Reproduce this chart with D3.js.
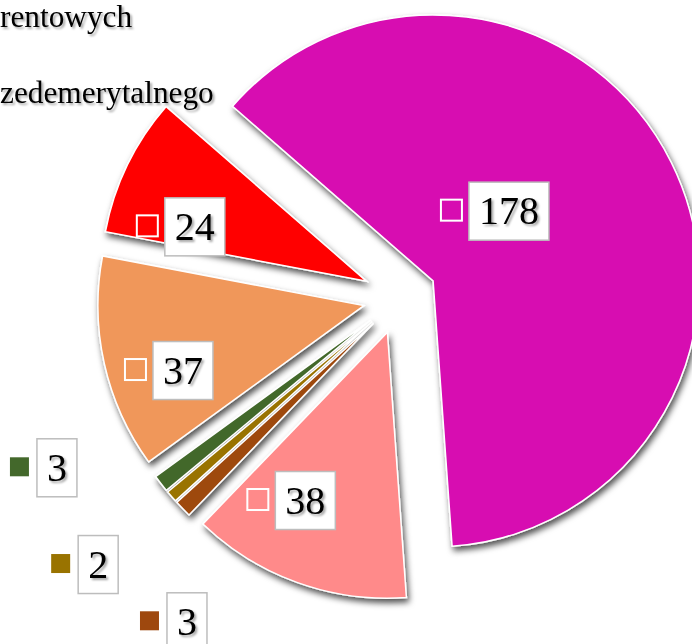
<!DOCTYPE html>
<html>
<head>
<meta charset="utf-8">
<script src="https://cdn.jsdelivr.net/npm/d3@7"></script>
<style>
  html, body { margin: 0; padding: 0; background: #fff; }
  svg { display: block; }
</style>
</head>
<body>
<div id="chart"></div>
<script>
// slice values, clockwise starting from the big magenta slice
const values = [178, 38, 3, 2, 3, 37, 24];
const colors = ['#D70CB1', '#FF8A8A', '#9E480E', '#997300', '#43682B', '#F0975A', '#FF0000'];
// legend entries visible (cut off at the left edge)
const legendTexts = ['rentowych', 'zedemerytalnego'];

// label placement: polar [angle in degrees, distance] from the pie centre
const labelPolar = [[51.6, 139], [205, 224], [213.3, 388], [228.5, 403], [243.6, 383], [251.4, 229], [289, 217]];

const width = 692;
const height = 644;
const center = { x: 400, y: 297.5 };
const radius = 266;
const explode = 37;
const startDeg = -48.94;

const svg = d3.select('#chart')
  .append('svg')
  .attr('width', width)
  .attr('height', height);

svg.append('rect')
  .attr('width', width)
  .attr('height', height)
  .attr('fill', '#fff');

const defs = svg.append('defs');

const shadow = defs.append('filter')
  .attr('id', 'shadow')
  .attr('x', '-20%').attr('y', '-20%')
  .attr('width', '140%').attr('height', '140%');
shadow.append('feGaussianBlur').attr('in', 'SourceAlpha').attr('stdDeviation', 3.2).attr('result', 'blur');
shadow.append('feOffset').attr('in', 'blur').attr('dx', 2).attr('dy', 4).attr('result', 'off');
shadow.append('feFlood').attr('flood-color', '#000').attr('flood-opacity', 0.68).attr('result', 'col');
shadow.append('feComposite').attr('in', 'col').attr('in2', 'off').attr('operator', 'in').attr('result', 'sh');
const m1 = shadow.append('feMerge');
m1.append('feMergeNode').attr('in', 'sh');
m1.append('feMergeNode').attr('in', 'SourceGraphic');

const textShadow = defs.append('filter')
  .attr('id', 'tshadow')
  .attr('x', '-10%').attr('y', '-10%')
  .attr('width', '130%').attr('height', '130%');
textShadow.append('feGaussianBlur').attr('in', 'SourceAlpha').attr('stdDeviation', 0.8).attr('result', 'blur');
textShadow.append('feOffset').attr('in', 'blur').attr('dx', 1.5).attr('dy', 1.5).attr('result', 'off');
textShadow.append('feFlood').attr('flood-color', '#000').attr('flood-opacity', 0.35).attr('result', 'col');
textShadow.append('feComposite').attr('in', 'col').attr('in2', 'off').attr('operator', 'in').attr('result', 'sh');
const m2 = textShadow.append('feMerge');
m2.append('feMergeNode').attr('in', 'sh');
m2.append('feMergeNode').attr('in', 'SourceGraphic');

const start = startDeg * Math.PI / 180;
const pie = d3.pie()
  .sort(null)
  .value(d => d)
  .startAngle(start)
  .endAngle(start + 2 * Math.PI);

const arcs = pie(values);

const arc = d3.arc()
  .innerRadius(0)
  .outerRadius(radius);

const pieG = svg.append('g')
  .attr('transform', `translate(${center.x}, ${center.y})`)
  .attr('filter', 'url(#shadow)');

pieG.selectAll('path')
  .data(arcs)
  .enter()
  .append('path')
  .attr('transform', (d) => {
    const mid = (d.startAngle + d.endAngle) / 2;
    return `translate(${explode * Math.sin(mid)}, ${-explode * Math.cos(mid)})`;
  })
  .attr('d', arc)
  .attr('fill', (d, i) => colors[i])
  .attr('stroke', '#fff')
  .attr('stroke-width', 1.5)
  .attr('stroke-linejoin', 'miter');

// data labels: legend key + boxed value
const labelG = svg.append('g')
  .attr('transform', `translate(${center.x}, ${center.y})`);

arcs.forEach((d, i) => {
  const a = labelPolar[i][0] * Math.PI / 180;
  const cx = labelPolar[i][1] * Math.sin(a);
  const cy = -labelPolar[i][1] * Math.cos(a);

  const g = labelG.append('g');
  const txt = g.append('text')
    .attr('x', cx)
    .attr('y', cy)
    .attr('dy', '0.33em')
    .attr('text-anchor', 'middle')
    .attr('font-family', '"Liberation Serif", "Times New Roman", serif')
    .attr('font-size', 40)
    .attr('fill', '#000')
    .attr('filter', 'url(#tshadow)')
    .text(d.data);

  const tw = txt.node().getComputedTextLength();
  const bw = tw + 20;
  const bh = 58;

  g.insert('rect', 'text')
    .attr('x', cx - bw / 2)
    .attr('y', cy - bh / 2)
    .attr('width', bw)
    .attr('height', bh)
    .attr('fill', '#fff')
    .attr('stroke', '#BDBDBD')
    .attr('stroke-width', 1.5);

  const ks = 21;
  g.append('rect')
    .attr('x', cx - bw / 2 - 7 - ks)
    .attr('y', cy - ks / 2 - 1)
    .attr('width', ks)
    .attr('height', ks)
    .attr('fill', colors[i])
    .attr('stroke', '#fff')
    .attr('stroke-width', 2);
});

// cut-off legend entries
svg.selectAll('.legend')
  .data(legendTexts)
  .enter()
  .append('text')
  .attr('class', 'legend')
  .attr('x', 0)
  .attr('y', (d, i) => 27 + i * 76)
  .attr('font-family', '"Liberation Serif", "Times New Roman", serif')
  .attr('font-size', 31.3)
  .attr('fill', '#000')
  .attr('filter', 'url(#tshadow)')
  .text(d => d);
</script>
</body>
</html>
